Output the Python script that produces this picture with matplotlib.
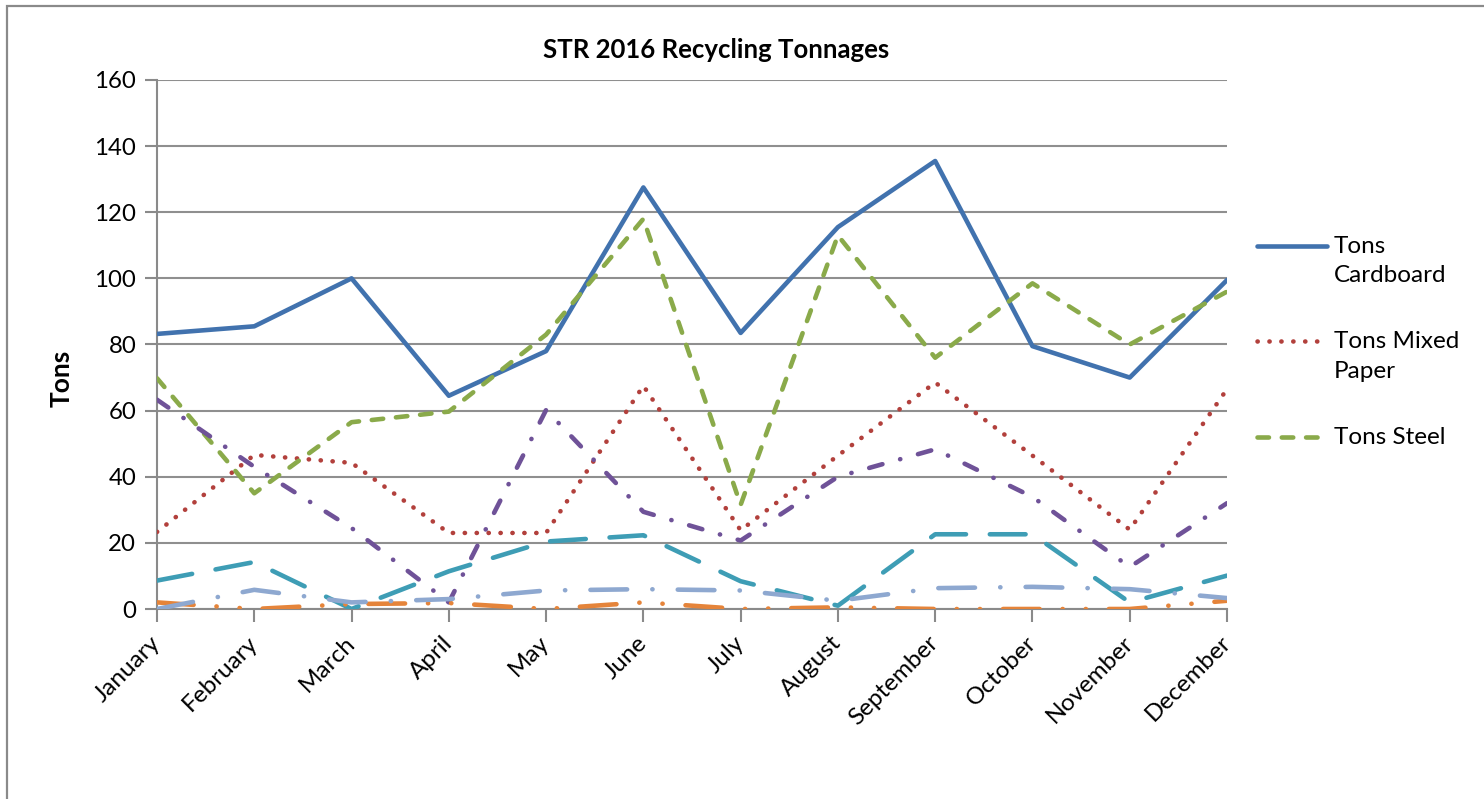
#!/usr/bin/env python3
"""
STR 2016 recycling tonnages by month (line chart)
"""

import numpy as np
from matplotlib import pyplot as plt
from matplotlib.lines import Line2D
from matplotlib.patches import Rectangle

months = ["January", "February", "March", "April", "May", "June", "July",
          "August", "September", "October", "November", "December"]

tons_cardboard = [83.2, 85.5, 100.0, 64.5, 78.0, 127.5, 83.5, 115.5, 135.5, 79.5, 70.0, 99.5]
tons_mixed_paper = [23.3, 46.6, 44.2, 23.0, 23.0, 67.5, 23.8, 46.4, 68.5, 46.4, 24.0, 66.5]
tons_steel = [69.8, 35.0, 56.5, 59.7, 83.0, 118.0, 31.5, 113.0, 76.0, 98.5, 80.0, 96.0]
tons_series4 = [63.3, 43.0, 24.5, 2.0, 60.2, 29.4, 20.7, 40.0, 48.3, 33.9, 12.7, 32.0]
tons_series5 = [8.6, 14.2, 0.0, 11.4, 20.4, 22.3, 8.4, 1.0, 22.6, 22.6, 2.0, 10.1]
tons_series6 = [2.0, 0.0, 1.5, 1.8, 0.0, 2.0, 0.0, 0.5, 0.0, 0.0, 0.0, 2.5]
tons_series7 = [0.0, 5.8, 2.0, 3.0, 5.6, 6.0, 5.6, 2.5, 6.3, 6.7, 6.0, 3.3]

yticks = [0, 20, 40, 60, 80, 100, 120, 140, 160]

plt.rcParams["font.family"] = ["Lato", "DejaVu Sans"]

W, H = 1484, 799
fig = plt.figure(figsize=(W / 100, H / 100), dpi=100)

# chart-area frame (only top and left edges are visible in the crop)
fig.patches.append(Rectangle((7 / W, -0.1), 1.2, 1.1 - 6 / H, transform=fig.transFigure,
                             fill=False, edgecolor="#8a8a8a", linewidth=1.6))

ax = fig.add_axes([157 / W, 1 - 609 / H, (1227 - 157) / W, (609 - 80) / H])

x = np.arange(len(months))
lw = 3.3
series = [
    (tons_cardboard, "#4172AE", "-", "Tons Cardboard"),
    (tons_mixed_paper, "#B2403C", (0, (0.05, 2.55)), "Tons Mixed Paper"),
    (tons_steel, "#8AAA4A", (0, (2.5, 2.8)), "Tons Steel"),
    (tons_series4, "#6F5298", (0, (3.0, 4.0, 0.05, 4.0)), None),
    (tons_series5, "#3E9DB5", (0, (7.8, 5.2)), None),
    (tons_series6, "#E5843A", (0, (8.0, 5.0, 0.05, 5.0, 0.05, 5.0)), None),
    (tons_series7, "#8EA8D0", (0, (8.0, 5.5, 0.05, 5.5)), None),
]
for vals, col, ls, lab in series:
    ax.plot(x, vals, color=col, linestyle=ls, linewidth=lw, dash_capstyle="round",
            solid_capstyle="round", zorder=3)

ax.set_xlim(0, len(months) - 1)
ax.set_ylim(0, 160)
ax.set_yticks(yticks)
ax.set_yticklabels([str(v) for v in yticks], fontsize=17.3)
ax.set_xticks(x)
ax.set_xticklabels(months, fontsize=17.5, rotation=45, ha="right", va="center",
                   rotation_mode="anchor")
ax.tick_params(axis="x", length=9, width=1.5, color="#8a8a8a", pad=13)
ax.tick_params(axis="y", length=9, width=1.5, color="#8a8a8a", pad=6)
ax.grid(axis="y", color="#8f8f8f", linewidth=1.5, zorder=0)
for s in ["top", "right"]:
    ax.spines[s].set_visible(False)
for s in ["left", "bottom"]:
    ax.spines[s].set_color("#8a8a8a")
    ax.spines[s].set_linewidth(1.5)

fig.text(716 / W, 1 - 50 / H, "STR 2016 Recycling Tonnages", ha="center", va="center",
         fontsize=18.5, fontweight="bold")
fig.text(62 / W, 1 - 378 / H, "Tons", ha="center", va="center", rotation=90,
         fontsize=19, fontweight="bold")

# legend (Excel keeps the sample line beside the first text line)
lx0, lx1, tx = 1257 / W, 1327 / W, 1334 / W
leg_rows = [(0, 246, "Tons\nCardboard"), (1, 341, "Tons Mixed\nPaper"), (2, 437, "Tons Steel")]
for idx, ypx, txt in leg_rows:
    _, col, ls, _ = series[idx]
    yf = 1 - ypx / H
    fig.lines.append(Line2D([lx0, lx1], [yf, yf], transform=fig.transFigure, color=col,
                            linestyle=ls, linewidth=lw, dash_capstyle="round",
                            solid_capstyle="round"))
    fig.text(tx, yf + 10 / H, txt, ha="left", va="top", fontsize=17.5, linespacing=1.5,
             transform=fig.transFigure)

plt.savefig("out.png", dpi=100)
plt.close()
